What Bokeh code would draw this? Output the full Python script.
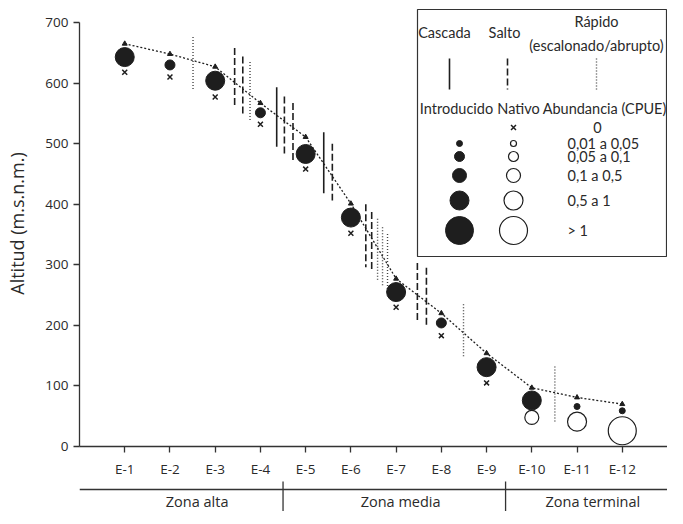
from bokeh.plotting import figure
from bokeh.models import Range1d, FixedTicker
from bokeh.layouts import column
from bokeh.embed import file_html
from bokeh.resources import INLINE
from bokeh.core.properties import value

# ---------------- data ----------------
stations = ["E-1", "E-2", "E-3", "E-4", "E-5", "E-6", "E-7", "E-8", "E-9", "E-10", "E-11", "E-12"]
station_x = [1, 2, 3, 4, 5, 6, 7, 8, 9, 10, 11, 12]
altitude = [665, 648, 627, 567, 511, 401, 277, 220, 154, 97, 81, 70]

introduced_y = [643, 630, 604, 551, 483, 378, 255, 204, 131, 76, 66, 59]
introduced_cat = [4, 2, 4, 2, 4, 4, 4, 2, 4, 4, 1, 1]
native_y = [618, 610, 577, 532, 458, 352, 230, 183, 105, 48, 41, 26]
native_cat = [0, 0, 0, 0, 0, 0, 0, 0, 0, 3, 4, 5]

barrier_x = [2.51, 3.43, 3.61, 3.77, 4.36, 4.53, 4.72, 5.40, 5.59, 6.33, 6.46, 6.59, 6.70, 6.81, 7.47, 7.67, 8.49, 10.51]
barrier_top = [676, 658, 644, 635, 593, 578, 567, 519, 500, 400, 387, 376, 362, 351, 303, 295, 235, 132]
barrier_bottom = [589, 559, 548, 538, 495, 482, 469, 418, 406, 296, 288, 274, 263, 252, 208, 198, 147, 38]
barrier_type = ["rapido", "salto", "salto", "rapido", "cascada", "salto", "salto", "cascada", "salto",
                "salto", "salto", "rapido", "rapido", "rapido", "salto", "salto", "rapido", "rapido"]

zones = ["Zona alta", "Zona media", "Zona terminal"]
zone_bounds = [0, 4.5, 9.42, 13]
zone_label_x = [2.6, 7.1, 11.35]

y_ticks = [0, 100, 200, 300, 400, 500, 600, 700]
abundance_labels = ["0", "0,01 a 0,05", "0,05 a 0,1", "0,1 a 0,5", "0,5 a 1", "> 1"]
barrier_names = ["Cascada", "Salto", "Rápido", "(escalonado/abrupto)"]
species_names = ["Introducido", "Nativo", "Abundancia (CPUE)"]

# ---------------- styles / layout ----------------
SIZE = {1: 6, 2: 10, 3: 14, 4: 19, 5: 28}
INK = "#1e1e1e"
TXT = "#2a2a2a"
FRAME_W, FRAME_H = 588, 446
X_END, Y_END = 13.0, 736.4
FRAME_LEFT, FRAME_TOP = 79, 0
STYLE = {"cascada": dict(line_dash="solid", line_width=1.6),
         "salto": dict(line_dash="7 3", line_width=1.6),
         "rapido": dict(line_dash="1 2", line_width=1.4)}
LEG_DX = -14  # legend shift relative to reference pixel layout

xr = Range1d(0, X_END)

p = figure(frame_width=FRAME_W, frame_height=FRAME_H, x_range=xr, y_range=Range1d(0, Y_END),
           output_backend="svg", toolbar_location=None,
           min_border_left=FRAME_LEFT, min_border_right=0, min_border_top=0, min_border_bottom=31)
p.outline_line_color = None
p.grid.visible = False
p.background_fill_color = "white"

# axes
p.xaxis.ticker = FixedTicker(ticks=station_x)
p.xaxis.major_label_overrides = {x: s for x, s in zip(station_x, stations)}
p.xaxis.bounds = (0, 13)
p.yaxis.ticker = FixedTicker(ticks=y_ticks)
p.yaxis.bounds = (0, 700)
p.yaxis.axis_label = "Altitud (m.s.n.m.)"
for ax in (p.xaxis[0], p.yaxis[0]):
    ax.axis_line_color = "#333333"
    ax.axis_line_width = 1.3
    ax.major_tick_line_color = "#333333"
    ax.major_tick_line_width = 1.3
    ax.major_tick_out = 6
    ax.major_tick_in = 0
    ax.minor_tick_line_color = None
    ax.major_label_text_font = "Open Sans"
    ax.major_label_text_font_size = "13.5px"
    ax.major_label_text_color = TXT
p.xaxis.major_label_standoff = 7
p.yaxis.major_label_standoff = 5
yax = p.yaxis[0]
yax.axis_label_text_font = "Open Sans"
yax.axis_label_text_font_size = "18px"
yax.axis_label_text_font_style = "normal"
yax.axis_label_text_color = TXT
yax.axis_label_standoff = 13

# barriers
for kind in ("cascada", "salto", "rapido"):
    idx = [i for i, t in enumerate(barrier_type) if t == kind]
    p.segment(x0=[barrier_x[i] for i in idx], y0=[barrier_top[i] for i in idx],
              x1=[barrier_x[i] for i in idx], y1=[barrier_bottom[i] for i in idx],
              line_color=INK if kind != "rapido" else "#444444", **STYLE[kind])

# altitude trend
p.line(station_x, altitude, line_color=INK, line_width=1.3, line_dash="2 2")
p.scatter(station_x, altitude, marker="triangle", size=5, color=INK)

# introduced species
p.scatter(station_x, introduced_y, size=[SIZE[c] for c in introduced_cat], color=INK)

# native species
zx = [x for x, c in zip(station_x, native_cat) if c == 0]
zy = [y for y, c in zip(native_y, native_cat) if c == 0]
p.scatter(zx, zy, marker="x", size=7, line_color=INK, line_width=1.5)
nx = [x for x, c in zip(station_x, native_cat) if c > 0]
ny = [y for y, c in zip(native_y, native_cat) if c > 0]
ns = [SIZE[c] for c in native_cat if c > 0]
p.scatter(nx, ny, size=ns, fill_color="white", line_color=INK, line_width=1.2)


# ---------------- legend (laid out in canvas pixels, mapped to data) ----------------
def L(px, py):
    return ((px + LEG_DX - FRAME_LEFT) * X_END / FRAME_W,
            Y_END - (py - FRAME_TOP) * Y_END / FRAME_H)


bl, bt = L(431, 9)
br, bb = L(680, 256)
p.quad(left=[bl], right=[br], top=[bt], bottom=[bb], fill_color="white",
       line_color="#333333", line_width=1.2)


def txt(px, py, s, align="center", size="14.5px"):
    x, y = L(px, py)
    p.text([x], [y], text=[s], text_font=value("Lato"), text_font_size=size,
           text_color=TXT, text_align=align, text_baseline="middle")


for name, (px, py) in zip(barrier_names, [(458, 32), (518, 32), (610, 21), (610, 45)]):
    txt(px, py, name)
for kind, px in zip(("cascada", "salto", "rapido"), (463, 521, 610)):
    x0, y0 = L(px, 58)
    x1, y1 = L(px, 89)
    p.segment(x0=[x0], y0=[y0], x1=[x1], y1=[y1],
              line_color=INK if kind != "rapido" else "#444444", **STYLE[kind])
for name, (px, py) in zip(species_names, [(470, 108), (532, 108), (618, 108)]):
    txt(px, py, name)

row_y = [127, 143, 156, 175, 200, 230]
lx, ly = L(527, row_y[0])
p.scatter([lx], [ly], marker="x", size=7, line_color=INK, line_width=1.5)
txt(611, row_y[0], abundance_labels[0])
for cat, (lab, ry) in enumerate(zip(abundance_labels[1:], row_y[1:]), start=1):
    fx, fy = L(473, ry)
    p.scatter([fx], [fy], size=SIZE[cat], color=INK)
    ox, oy = L(527, ry)
    p.scatter([ox], [oy], size=SIZE[cat], fill_color="white", line_color=INK, line_width=1.2)
    txt(581, ry, lab, align="left")

# ---------------- zone strip ----------------
ZH = 31
z = figure(frame_width=FRAME_W, frame_height=ZH, x_range=xr, y_range=Range1d(0, ZH),
           output_backend="svg", toolbar_location=None, x_axis_type=None, y_axis_type=None,
           min_border_left=FRAME_LEFT, min_border_right=0, min_border_top=0, min_border_bottom=0)
z.outline_line_color = None
z.grid.visible = False
z.segment(x0=[zone_bounds[0]], y0=[ZH - 9], x1=[zone_bounds[-1]], y1=[ZH - 9],
          line_color="#333333", line_width=1.3)
inner = zone_bounds[1:-1]
z.segment(x0=inner, y0=[ZH - 1] * len(inner), x1=inner, y1=[0] * len(inner),
          line_color="#333333", line_width=1.3)
z.text(zone_label_x, [ZH - 21] * len(zones), text=zones, text_font=value("Open Sans"),
       text_font_size="14.5px", text_color=TXT, text_align="center", text_baseline="middle")

layout = column(p, z, spacing=0)
open("out.html", "w").write(file_html(layout, INLINE))
